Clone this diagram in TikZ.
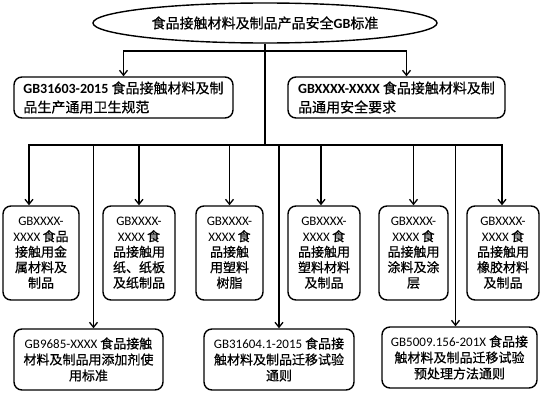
\documentclass[tikz,border=0pt]{standalone}
\usepackage{fontspec}
\setmainfont{Noto Sans CJK SC}[FakeBold=0.7]
\newfontfamily\lat{Carlito}
\usetikzlibrary{shapes.geometric,arrows.meta}

\begin{document}
\begin{tikzpicture}[x=1pt, y=-1pt,
    box/.style={draw, line width=1.4pt, rounded corners=8pt, inner sep=2pt},
    topbox/.style={box, minimum height=41pt, align=left, font=\fontsize{14}{19}\selectfont},
    midbox/.style={box, minimum height=94pt, align=center, font=\fontsize{13}{15.5}\selectfont},
    lowbox/.style={box, minimum height=61pt, align=center, font=\fontsize{13}{16}\selectfont},
    arr/.style={-{Straight Barb[length=5pt,width=8pt]}, line width=1.3pt},
    ln/.style={line width=1.3pt}]
    \useasboundingbox (0,0) rectangle (547,404);

    % 顶部椭圆
    \node[ellipse, draw, line width=1.4pt, minimum width=344pt, minimum height=40pt,
          font=\fontsize{14}{16}\selectfont] (root) at (265,23) {食品接触材料及制品产品安全{\lat\bfseries GB}标准};

    % 第一层
    \node[topbox, minimum width=219pt] (gmp) at (123.5,97.5) {{\lat\bfseries GB31603-2015} 食品接触材料及制\\品生产通用卫生规范};
    \node[topbox, minimum width=217pt] (req) at (396.5,97.5) {{\lat\bfseries GBXXXX-XXXX} 食品接触材料及制\\品通用安全要求};

    % 第二层 材料标准
    \node[midbox, minimum width=76pt] (met) at (41,253) {{\lat GBXXXX-}\\{\lat XXXX}\,食品\\接触用金\\属材料及\\制品};
    \node[midbox, minimum width=72pt] (pap) at (139,253) {{\lat GBXXXX-}\\{\lat XXXX}\,食\\品接触用\\纸、纸板\\及纸制品};
    \node[midbox, minimum width=67pt] (pla) at (229.5,253) {{\lat GBXXXX-}\\{\lat XXXX}\,食\\品接触\\用塑料\\树脂};
    \node[midbox, minimum width=72pt] (plm) at (324,253) {{\lat GBXXXX-}\\{\lat XXXX}\,食\\品接触用\\塑料材料\\及制品};
    \node[midbox, minimum width=69pt] (coa) at (413.5,253) {{\lat GBXXXX-}\\{\lat XXXX}\,食\\品接触用\\涂料及涂\\层};
    \node[midbox, minimum width=72pt] (rub) at (503,253) {{\lat GBXXXX-}\\{\lat XXXX}\,食\\品接触用\\橡胶材料\\及制品};

    % 第三层 添加剂与迁移试验
    \node[lowbox, minimum width=149pt] (add) at (88.5,359.5) {{\lat GB9685-XXXX} 食品接触\\材料及制品用添加剂使\\用标准};
    \node[lowbox, minimum width=150pt] (mig) at (279,359.5) {{\lat GB31604.1-2015} 食品接\\触材料及制品迁移试验\\通则};
    \node[lowbox, minimum width=155pt] (pre) at (459.5,357.5) {{\lat GB5009.156-201X} 食品接\\触材料及制品迁移试验\\预处理方法通则};

    % 主干与分支
    \coordinate (hubA) at (265,51);
    \coordinate (hubB) at (265,145);
    \draw[ln] (root) -- (hubB);
    \draw[arr] (hubA) -| (gmp);
    \draw[arr] (hubA) -| ([xshift=10pt]req.north);

    \foreach \n/\dx in {met/-12, pap/0, pla/0, plm/-3, coa/0, rub/-1}
        \draw[arr] (hubB) -| ([xshift=\dx pt]\n.north);

    \foreach \n/\dx in {add/5, mig/0, pre/-4}
        \draw[arr] (hubB) -| ([xshift=\dx pt]\n.north);
\end{tikzpicture}
\end{document}
